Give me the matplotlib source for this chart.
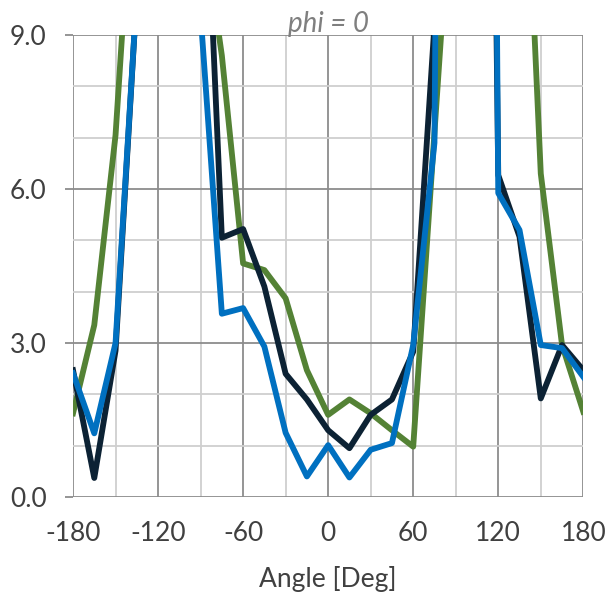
import matplotlib
matplotlib.use('Agg')
import matplotlib.pyplot as plt
from matplotlib.ticker import MultipleLocator

plt.rcParams['font.family'] = ['Lato', 'DejaVu Sans']
plt.rcParams['axes.unicode_minus'] = False

# Angle in degrees and the three curves (values above 9 run off the top)
angle = [-180, -165, -150, -135, -120, -105, -90, -75, -60, -45, -30, -15,
         0, 15, 30, 45, 60, 75, 90, 105, 120, 135, 150, 165, 180]
dark = [2.47, 0.37, 2.85, 9.8, 18.0, 22.0, 14.5, 5.05, 5.22, 4.1, 2.4, 1.9,
        1.3, 0.95, 1.6, 1.9, 2.83, 9.2, 20.0, 40.0, 6.27, 5.07, 1.92, 2.96, 2.47]
blue = [2.41, 1.24, 3.0, 9.8, 16.0, 20.0, 9.4, 3.57, 3.68, 2.93, 1.25, 0.4,
        1.01, 0.38, 0.92, 1.05, 2.96, 6.9, 60.0, 60.0, 5.92, 5.2, 2.96, 2.9, 2.34]
green = [1.63, 3.35, 7.05, 13.4, 22.0, 20.0, 11.5, 8.6, 4.55, 4.42, 3.87, 2.47,
         1.6, 1.9, 1.63, 1.3, 0.98, 7.1, 13.2, 25.0, 25.0, 15.5, 6.3, 2.96, 1.66]

x_ticks = [-180, -120, -60, 0, 60, 120, 180]
y_ticks = [0.0, 3.0, 6.0, 9.0]

fig = plt.figure(figsize=(6.09, 5.92), dpi=100)
ax = fig.add_axes([0.1199, 0.1605, 0.8379, 0.7804])

ax.plot(angle, green, color='#548235', lw=4.2, zorder=3)
ax.plot(angle, dark, color='#0C2234', lw=4.2, zorder=4)
ax.plot(angle, blue, color='#0070C0', lw=4.2, zorder=5)

ax.set_xlim(-180, 180)
ax.set_ylim(0, 9)
ax.set_xticks(x_ticks)
ax.set_yticks(y_ticks)
ax.set_yticklabels([f'{v:.1f}' for v in y_ticks])
ax.xaxis.set_minor_locator(MultipleLocator(30))
ax.yaxis.set_minor_locator(MultipleLocator(1))

ax.grid(which='major', color='#8c8c8c', lw=1.3)
ax.grid(which='minor', color='#cfcfcf', lw=1.3)
ax.set_axisbelow(True)
for s in ax.spines.values():
    s.set_visible(False)

ax.tick_params(axis='y', which='major', length=6, width=1.3, color='#8c8c8c',
               pad=13, labelsize=19, labelcolor='#404040')
ax.tick_params(axis='x', which='major', length=0, pad=17,
               labelsize=19, labelcolor='#404040')
ax.tick_params(which='minor', length=0)

ax.set_xlabel('Angle [Deg]', fontsize=19, color='#404040', labelpad=15)
ax.text(0.5, 1.007, 'phi = 0', transform=ax.transAxes, ha='center',
        va='baseline', fontsize=20, style='italic', color='#7f7f7f')

fig.savefig('out.png', dpi=100)
